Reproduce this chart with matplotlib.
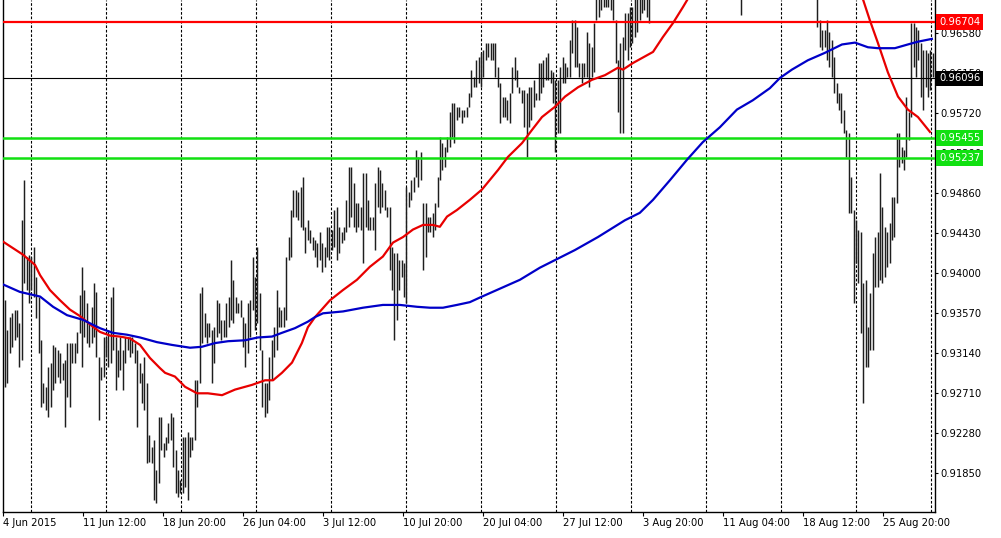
#!/usr/bin/env python3
"""
H4 price bars with two moving averages and level lines (MT4-style chart)
"""

import numpy as np
import matplotlib.pyplot as plt
from matplotlib.transforms import blended_transform_factory

# bar highs / lows in 1e-4 price units, one entry per H4 bar, oldest first
HIGHS = [
    9371, 9339, 9353, 9357, 9361, 9361, 9347, 9457, 9500, 9418,
    9420, 9418, 9428, 9396, 9375, 9328, 9282, 9278, 9299, 9304,
    9323, 9321, 9318, 9314, 9304, 9307, 9325, 9325, 9325, 9325,
    9337, 9377, 9407, 9382, 9368, 9347, 9364, 9390, 9380, 9310,
    9299, 9332, 9332, 9339, 9375, 9385, 9332, 9318, 9332, 9318,
    9332, 9332, 9332, 9332, 9325, 9318, 9304, 9293, 9310, 9282,
    9226, 9213, 9221, 9189,
    9246, 9246, 9218, 9224, 9239, 9250, 9246, 9210, 9189, 9178,
    9224, 9224, 9229, 9224, 9224, 9285, 9285, 9379, 9385, 9357,
    9347, 9347, 9339, 9342, 9371, 9368, 9350, 9350, 9368, 9375,
    9414, 9393, 9375, 9368, 9371, 9353, 9347, 9368, 9371, 9418,
    9396, 9428, 9379, 9318, 9282, 9282, 9310, 9328, 9342, 9382,
    9364, 9361, 9364, 9418, 9439, 9468, 9490, 9490, 9487, 9493,
    9504, 9450, 9457,
    9447, 9439, 9436, 9433, 9444, 9433, 9428, 9450, 9450, 9447,
    9468, 9471, 9450, 9444, 9450, 9479, 9514, 9514, 9497, 9476,
    9476, 9471, 9508, 9508, 9479, 9461, 9461, 9497, 9514, 9511,
    9497, 9490, 9471, 9471, 9428, 9422, 9422, 9414, 9414, 9411,
    9493, 9487, 9500, 9504, 9533, 9525, 9530, 9476, 9476, 9461,
    9461, 9465, 9476, 9504, 9547, 9540, 9536, 9547, 9573, 9583,
    9583, 9579, 9579, 9576,
    9576, 9579, 9594, 9619, 9611, 9629, 9633, 9637, 9640, 9648,
    9648, 9648, 9648, 9648, 9622, 9605, 9590, 9590, 9586, 9594,
    9622, 9633, 9619, 9600, 9597, 9597, 9594, 9600, 9600, 9608,
    9594, 9626, 9626, 9629, 9633, 9637, 9619, 9616, 9608, 9608,
    9622, 9633, 9626, 9622, 9651, 9672, 9672, 9665, 9626, 9626,
    9626, 9659, 9648, 9643, 9669, 9705, 9708, 9712, 9715, 9712,
    9716, 9710, 9698, 9672, 9629,
    9648, 9654, 9680, 9680, 9686, 9686, 9700, 9703, 9708, 9712,
    9715, 9712, 9714,
    9725, 9740, 9748, 9760, 9770, 9782, 9790, 9805, 9812, 9825,
    9840, 9850, 9862, 9870, 9885, 9895, 9902, 9890, 9880, 9872,
    9865, 9850, 9845, 9838, 9830, 9825, 9832, 9828, 9815, 9808,
    9800, 9812, 9805, 9790, 9780, 9770, 9755, 9745, 9760, 9772,
    9785, 9790, 9795, 9788, 9798, 9805, 9812, 9808, 9815, 9822,
    9818, 9825, 9830, 9822, 9815, 9820, 9828, 9825, 9818, 9812,
    9805, 9798, 9790, 9785, 9778, 9770, 9760, 9748, 9735,
    9705, 9672, 9662, 9662, 9672, 9659, 9651, 9633, 9605, 9594,
    9594, 9576, 9554, 9551, 9504, 9468, 9457, 9447, 9444, 9390,
    9393, 9342, 9379, 9422, 9439, 9444, 9508, 9471, 9450, 9444,
    9454, 9482, 9482, 9551, 9551, 9536, 9533, 9590, 9573, 9669,
    9669, 9665, 9662, 9648, 9640, 9640, 9637, 9640, 9637,
]
LOWS = [
    9278, 9282, 9314, 9321, 9328, 9332, 9299, 9307, 9390, 9382,
    9368, 9382, 9375, 9352, 9314, 9256, 9261, 9253, 9246, 9256,
    9275, 9282, 9289, 9282, 9285, 9235, 9267, 9256, 9304, 9304,
    9314, 9336, 9299, 9332, 9325, 9321, 9325, 9332, 9310, 9242,
    9285, 9289, 9310, 9299, 9304, 9318, 9275, 9289, 9296, 9275,
    9304, 9318, 9310, 9314, 9304, 9235, 9282, 9261, 9253, 9196,
    9197, 9196, 9156, 9153,
    9175, 9210, 9203, 9210, 9218, 9221, 9192, 9164, 9160, 9164,
    9164, 9170, 9156, 9203, 9210, 9221, 9256, 9282, 9325, 9332,
    9325, 9332, 9282, 9304, 9332, 9336, 9328, 9332, 9332, 9342,
    9350, 9347, 9357, 9357, 9353, 9321, 9299, 9314, 9332, 9361,
    9339, 9347, 9318, 9256, 9246, 9250, 9264, 9285, 9310, 9318,
    9342, 9342, 9342, 9350, 9414, 9418, 9461, 9461, 9457, 9450,
    9447, 9422, 9436,
    9433, 9425, 9418, 9407, 9414, 9401, 9407, 9418, 9414, 9425,
    9428, 9414, 9422, 9433, 9436, 9444, 9450, 9461, 9450, 9444,
    9450, 9447, 9411, 9450, 9447, 9447, 9447, 9425, 9471, 9465,
    9471, 9468, 9461, 9404, 9382, 9328, 9350, 9382, 9396, 9375,
    9368, 9471, 9479, 9487, 9504, 9493, 9500, 9404, 9418, 9444,
    9444, 9439, 9447, 9471, 9500, 9511, 9514, 9530, 9536, 9547,
    9540, 9565, 9568, 9562,
    9568, 9568, 9579, 9590, 9600, 9600, 9605, 9600, 9611, 9629,
    9633, 9629, 9629, 9611, 9600, 9562, 9568, 9568, 9565, 9562,
    9594, 9608, 9600, 9594, 9583, 9557, 9525, 9557, 9565, 9579,
    9586, 9586, 9594, 9600, 9608, 9608, 9605, 9583, 9530, 9551,
    9551, 9605, 9605, 9611, 9611, 9637, 9622, 9622, 9611, 9605,
    9611, 9611, 9600, 9611, 9616, 9672, 9676, 9683, 9686, 9686,
    9686, 9683, 9672, 9626, 9573,
    9551, 9551, 9640, 9629, 9643, 9648, 9654, 9659, 9672, 9680,
    9683, 9676, 9669,
    9705, 9712, 9725, 9735, 9742, 9755, 9765, 9775, 9790, 9795,
    9808, 9822, 9830, 9845, 9850, 9862, 9870, 9860, 9848, 9840,
    9830, 9822, 9810, 9800, 9795, 9792, 9800, 9790, 9780, 9775,
    9770, 9778, 9768, 9755, 9740, 9728, 9712, 9678, 9715, 9735,
    9748, 9760, 9765, 9758, 9768, 9775, 9782, 9778, 9785, 9790,
    9792, 9795, 9800, 9790, 9785, 9792, 9798, 9795, 9788, 9780,
    9775, 9765, 9760, 9752, 9745, 9738, 9728, 9715, 9702,
    9665, 9643, 9640, 9643, 9629, 9622, 9611, 9594, 9583, 9576,
    9562, 9551, 9525, 9465, 9465, 9368, 9411, 9390, 9336, 9261,
    9299, 9299, 9318, 9318, 9385, 9385, 9393, 9390, 9396, 9407,
    9411, 9436, 9439, 9476, 9514, 9519, 9511, 9525, 9543, 9568,
    9622, 9611, 9629, 9590, 9576, 9600, 9590, 9597, 9611,
]

# moving averages: (bar index, price in 1e-4 units)
RED_MA_X = [-0.8, 7.5, 12.5, 14.6, 18.7, 22.9, 27.0, 31.2, 35.4, 39.5, 43.7, 47.8,
            52.0, 56.2, 60.3, 64.5, 66.6, 70.7, 74.9, 79.9, 84.4, 90.3, 95.7,
            102.7, 108.2, 111.5, 115.2, 119.4, 123.5, 126.0, 129.0, 135.2, 140.6,
            146.4, 151.8, 157.2, 161.4, 165.6, 169.7, 173.9, 178.0, 180.9, 183.9,
            188.0, 193.4, 198.4, 205.1, 209.2, 215.1, 219.2, 223.4, 228.8, 233.0,
            238.4, 244.2, 249.6, 255.0, 257.1, 261.2, 265.4, 269.6, 273.7, 277.9,
            282.0, 285.0, 297.4, 322.4, 347.3, 353.6, 357.0, 359.8, 363.1, 367.3,
            371.5, 375.6, 379.8, 384.8]
RED_MA_Y = [9434, 9420, 9409, 9398, 9382, 9371, 9361, 9354, 9345, 9337, 9333, 9332,
            9330, 9323, 9309, 9298, 9293, 9289, 9278, 9271, 9271, 9269, 9275,
            9280, 9285, 9285, 9293, 9304, 9325, 9342, 9353, 9371, 9382,
            9393, 9407, 9418, 9433, 9439, 9447, 9452, 9452, 9450, 9461,
            9468, 9479, 9490, 9511, 9525, 9540, 9554, 9568, 9579, 9590,
            9600, 9608, 9613, 9621, 9619, 9626, 9632, 9638, 9654, 9669,
            9686, 9699, 9758, 9780, 9737, 9710, 9694, 9672, 9648, 9616,
            9590, 9576, 9568, 9552]

BLUE_MA_X = [-0.8, 6.2, 14.6, 20.0, 25.8, 32.4, 39.5, 44.9, 50.7, 56.2, 63.2, 69.5,
             77.0, 81.9, 87.4, 92.8, 99.8, 105.2, 111.1, 115.2, 120.6, 126.0,
             129.0, 132.3, 140.6, 148.9, 157.2, 164.3, 171.4, 176.8, 182.2, 188.0,
             193.4, 197.6, 214.2, 222.5, 237.1, 246.7, 257.9, 264.1, 269.6, 276.6,
             283.7, 290.3, 297.4, 304.5, 311.1, 318.2, 322.4, 327.4, 334.0, 341.1,
             348.2, 353.6, 359.0, 363.1, 370.2, 375.6, 379.8, 385.6]
BLUE_MA_Y = [9388, 9380, 9375, 9364, 9355, 9350, 9341, 9336, 9334, 9331, 9326, 9323,
             9320, 9321, 9325, 9327, 9328, 9331, 9332, 9336, 9341, 9348,
             9353, 9357, 9359, 9363, 9366, 9366, 9364, 9363, 9363, 9366,
             9369, 9374, 9393, 9406, 9425, 9439, 9457, 9465, 9479, 9500,
             9522, 9541, 9557, 9576, 9586, 9599, 9610, 9619, 9629, 9637,
             9646, 9648, 9643, 9642, 9642, 9646, 9649, 9652]

# horizontal levels
LEVELS = [0.96704, 0.96096, 0.95455, 0.95237]
LEVEL_COLORS = ['#ff0000', '#000000', '#11e011', '#11e011']
LEVEL_WIDTHS = [1.6, 0.8, 1.8, 1.8]

Y_TICKS = [0.96580, 0.96150, 0.95720, 0.95290, 0.94860, 0.94430, 0.94000,
           0.93570, 0.93140, 0.92710, 0.92280, 0.91850]
X_TICK_POS = [-0.8, 32.4, 65.7, 99.0, 132.3, 165.6, 198.9, 232.1, 265.4, 298.7, 332.0, 365.3]
X_TICK_LABELS = ['4 Jun 2015', '11 Jun 12:00', '18 Jun 20:00', '26 Jun 04:00',
                 '3 Jul 12:00', '10 Jul 20:00', '20 Jul 04:00', '27 Jul 12:00',
                 '3 Aug 20:00', '11 Aug 04:00', '18 Aug 12:00', '25 Aug 20:00']


def main():
    plt.rcParams['font.family'] = 'DejaVu Sans'
    highs = np.array(HIGHS) / 1e4
    lows = np.array(LOWS) / 1e4
    idx = np.arange(len(highs))

    fig = plt.figure(figsize=(10.01, 5.38), dpi=100)
    ax = fig.add_axes([3 / 1001, 26 / 538, 932 / 1001, 512 / 538])

    # dashed vertical grid
    for k in range(13):
        ax.axvline(10.8 + 31.2 * k, color='black', lw=0.8,
                   linestyle=(0, (2.4, 1.6)), zorder=1)

    ax.vlines(idx, lows, highs, color='#1e1e1e', lw=1.05, zorder=2)

    for lvl, col, lw in zip(LEVELS, LEVEL_COLORS, LEVEL_WIDTHS):
        ax.axhline(lvl, color=col, lw=lw, zorder=3)

    ax.plot(RED_MA_X, np.array(RED_MA_Y) / 1e4, color='#e80000', lw=1.6, zorder=4)
    ax.plot(BLUE_MA_X, np.array(BLUE_MA_Y) / 1e4, color='#0000c8', lw=1.6, zorder=4)

    ax.set_xlim(-0.83, 386.9)
    ax.set_ylim(0.91434, 0.96938)

    ax.spines['top'].set_visible(False)
    for s in ['left', 'right', 'bottom']:
        ax.spines[s].set_linewidth(1.0)

    ax.yaxis.tick_right()
    ax.set_yticks(Y_TICKS)
    ax.set_yticklabels([f'{v:.5f}' for v in Y_TICKS])
    ax.tick_params(axis='y', direction='out', length=2.4, width=0.8, pad=1.5, labelsize=7.2)

    ax.set_xticks(X_TICK_POS)
    ax.set_xticklabels(X_TICK_LABELS)
    ax.tick_params(axis='x', direction='out', length=3, width=0.8, pad=1.5, labelsize=7.2)
    for lab in ax.get_xticklabels():
        lab.set_ha('left')

    # price boxes on the right scale
    trans = blended_transform_factory(ax.transAxes, ax.transData)
    for lvl, col in zip(LEVELS, LEVEL_COLORS):
        ax.text(1.0045, lvl, f'{lvl:.5f}', transform=trans, ha='left', va='center',
                fontsize=7.2, color='white', clip_on=False, zorder=10,
                bbox=dict(boxstyle='square,pad=0.28', fc=col, ec='none'))

    plt.savefig('out.png', dpi=100)
    plt.close()


if __name__ == '__main__':
    main()
